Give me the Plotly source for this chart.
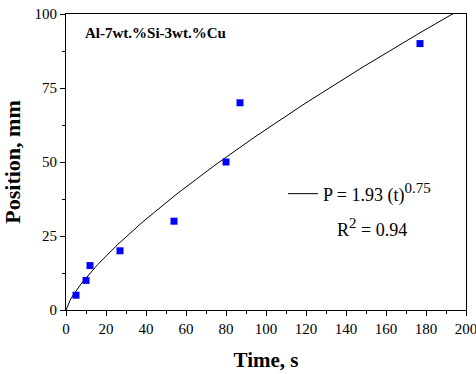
import plotly.graph_objects as go
import numpy as np

time_s = [5, 10, 12, 27, 54, 80, 87, 177]
position_mm = [5, 10, 15, 20, 30, 50, 70, 90]

fit_a = 1.93
fit_b = 0.75
fit_r2 = 0.94

x_ticks = [0, 20, 40, 60, 80, 100, 120, 140, 160, 180, 200]
y_ticks = [0, 25, 50, 75, 100]

t_fit = np.linspace(0, 200, 201)
p_fit = fit_a * t_fit ** fit_b

FONT = "Liberation Serif"

fig = go.Figure()
fig.add_trace(go.Scatter(
    x=t_fit, y=p_fit, mode="lines",
    line=dict(color="black", width=1),
    name=f"P = {fit_a} (t)<sup><span style='font-size:15px'>{fit_b}</span></sup>",
    showlegend=True,
))
fig.add_trace(go.Scatter(
    x=time_s, y=position_mm, mode="markers",
    marker=dict(symbol="square", size=7, color="#0000FF"),
    showlegend=False,
))

fig.update_layout(
    width=476, height=374,
    margin=dict(l=66, r=10, t=14, b=64, autoexpand=False),
    paper_bgcolor="white", plot_bgcolor="white",
    font=dict(family=FONT, color="black", size=15),
    legend=dict(x=0.5425, y=0.392, xanchor="left", yanchor="middle",
                bgcolor="rgba(0,0,0,0)", font=dict(size=18, family=FONT)),
    annotations=[
        dict(text="<b>Al-7wt.%Si-3wt.%Cu</b>", xref="paper", yref="paper",
             x=0.0425, y=0.936, xanchor="left", yanchor="middle",
             showarrow=False, font=dict(size=15, family=FONT)),
        dict(text=f"R<sup><span style='font-size:15px'>2</span></sup> = {fit_r2}",
             xref="x", yref="y",
             x=153, y=27.8, xanchor="center", yanchor="middle",
             showarrow=False, font=dict(size=18, family=FONT)),
    ],
)

fig.update_xaxes(
    range=[0, 200], tickvals=x_ticks, ticks="outside", ticklen=5,
    tickwidth=1, tickcolor="black", automargin=False,
    ticklabeloverflow="allow",
    minor=dict(dtick=10, ticks="outside", ticklen=3, tickcolor="black"),
    showline=True, linecolor="black", linewidth=1, mirror=True,
    showgrid=False, zeroline=False,
    tickfont=dict(size=15, family=FONT),
    title=dict(text="<b>Time, s</b>", font=dict(size=21, family=FONT), standoff=16),
)
fig.update_yaxes(
    range=[0, 100], tickvals=y_ticks, ticks="outside", ticklen=5,
    tickwidth=1, tickcolor="black", automargin=False,
    ticklabeloverflow="allow",
    minor=dict(dtick=12.5, ticks="outside", ticklen=3, tickcolor="black"),
    showline=True, linecolor="black", linewidth=1, mirror=True,
    showgrid=False, zeroline=False,
    tickfont=dict(size=15, family=FONT),
    title=dict(text="<b>Position, mm</b>", font=dict(size=22, family=FONT), standoff=8),
)

fig.write_html("out.html")
